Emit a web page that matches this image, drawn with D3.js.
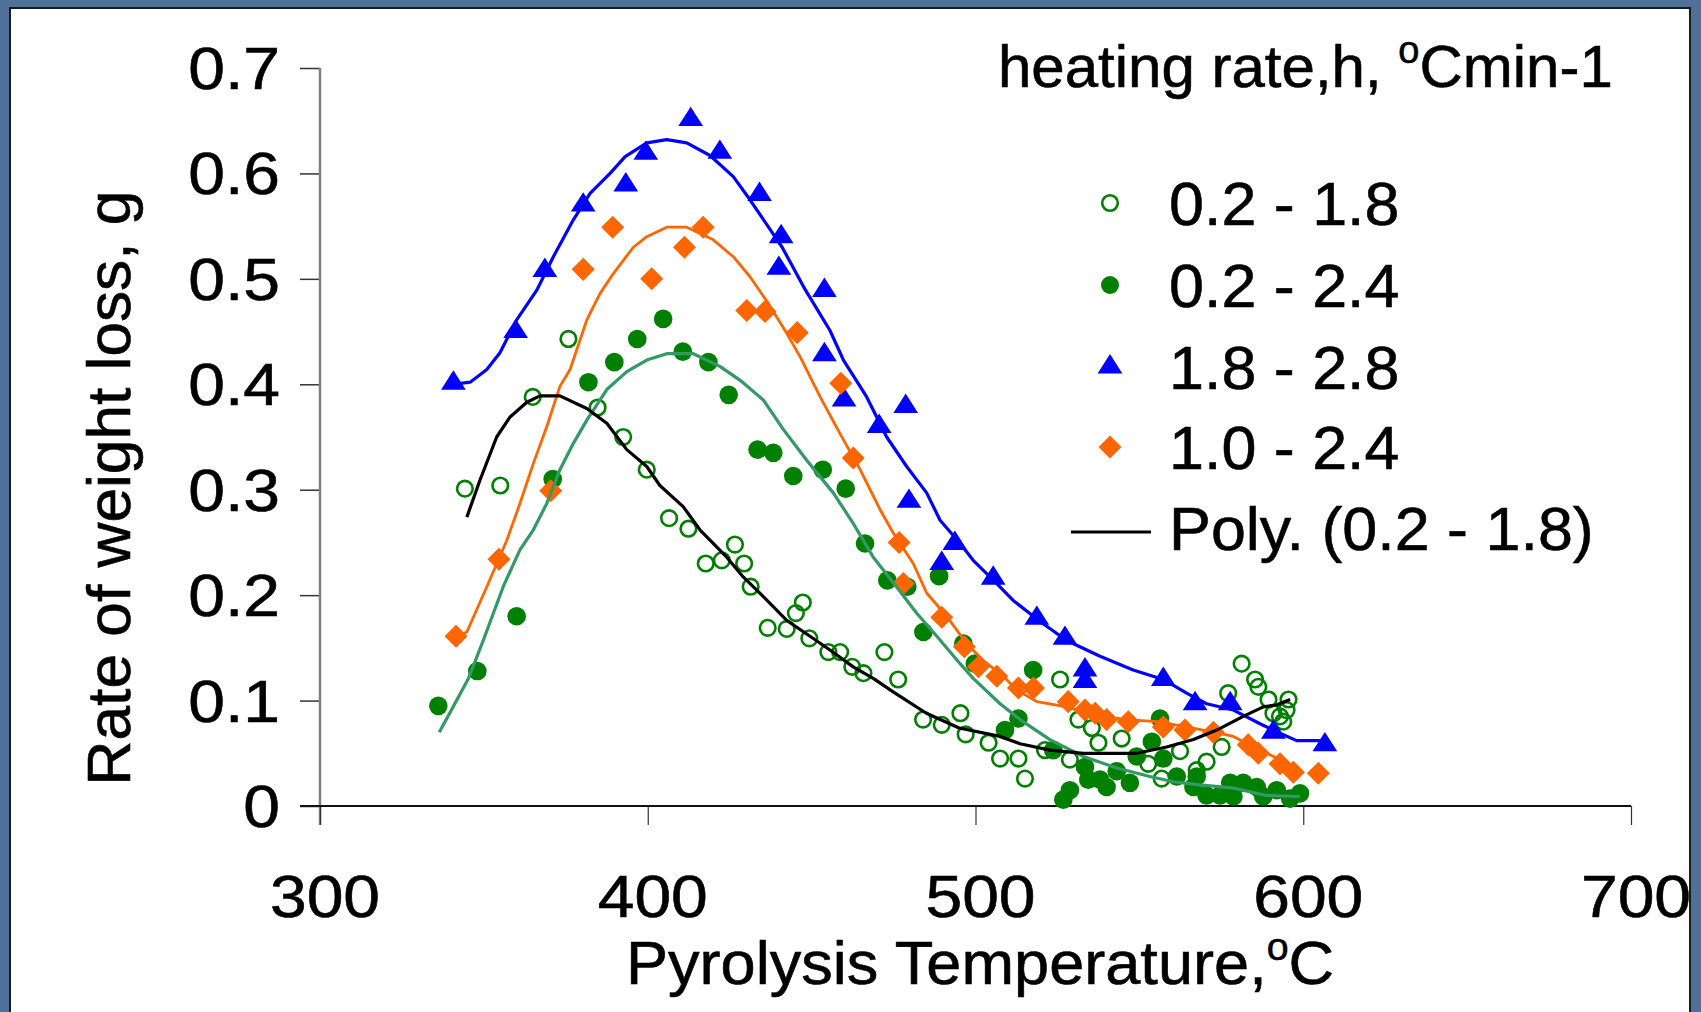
<!DOCTYPE html>
<html>
<head>
<meta charset="utf-8">
<script src="https://cdn.jsdelivr.net/npm/d3@7"></script>
<style>
  html, body { margin: 0; padding: 0; background: #4e7099; }
  svg { display: block; }
  text { font-family: "Liberation Sans", Arial, sans-serif; fill: #000; stroke: #000; stroke-width: 0.6px; }
</style>
</head>
<body>
<svg id="chart" width="1701" height="1012"></svg>
<script>
// ---------------- DATA ----------------
const xTicks = [300, 400, 500, 600, 700];
const yTicks = [0, 0.1, 0.2, 0.3, 0.4, 0.5, 0.6, 0.7];
const yTickLabels = ["0", "0.1", "0.2", "0.3", "0.4", "0.5", "0.6", "0.7"];

const seriesNames = ["0.2 - 1.8", "0.2 - 2.4", "1.8 - 2.8", "1.0 - 2.4", "Poly. (0.2 - 1.8)"];

// 0.2 - 1.8 (open circles)
const openT = [344.2,355.0,364.9,375.8,384.7,392.5,399.7,406.5,412.4,417.7,422.6,426.6,429.4,431.4,436.6,442.4,445.2,447.3,449.3,455.1,458.7,462.4,465.8,472.2,476.4,484.0,489.7,495.4,497.0,504.0,507.5,513.1,515.1,521.2,525.8,528.8,531.4,535.5,537.5,544.6,552.7,556.8,562.4,567.5,570.5,575.1,577.1,581.2,585.3,586.3,589.4,590.9,592.9,593.9,594.9,595.5];
const openV = [0.301,0.304,0.388,0.443,0.378,0.350,0.319,0.273,0.263,0.230,0.233,0.248,0.230,0.208,0.169,0.168,0.183,0.193,0.159,0.146,0.146,0.132,0.126,0.146,0.120,0.082,0.077,0.088,0.068,0.060,0.045,0.045,0.026,0.053,0.120,0.044,0.082,0.074,0.060,0.064,0.040,0.026,0.052,0.034,0.042,0.056,0.107,0.135,0.120,0.113,0.101,0.088,0.085,0.080,0.091,0.101];

// 0.2 - 2.4 (filled circles)
const fillT = [336.1,348.0,360.0,371.0,381.9,389.8,396.8,404.7,410.7,418.5,424.7,433.5,438.3,444.4,453.4,460.4,466.3,473.1,479.2,484.1,488.9,496.3,499.8,509.0,513.1,517.6,523.7,526.8,528.8,533.4,534.4,538.0,540.0,543.1,547.1,549.2,553.8,556.3,557.3,561.4,566.5,567.5,570.5,574.6,577.7,578.7,581.7,585.8,587.8,591.9,596.0,599.0];
const fillV = [0.095,0.128,0.180,0.310,0.402,0.421,0.443,0.462,0.431,0.421,0.390,0.338,0.335,0.313,0.319,0.301,0.249,0.214,0.208,0.165,0.218,0.154,0.135,0.072,0.083,0.129,0.053,0.006,0.015,0.037,0.025,0.025,0.018,0.033,0.022,0.047,0.061,0.083,0.045,0.028,0.018,0.028,0.010,0.010,0.022,0.009,0.022,0.018,0.009,0.015,0.007,0.012];

// 1.8 - 2.8 (triangles)
const triT = [340.7,359.7,368.6,380.3,393.3,399.4,413.1,422.0,434.1,440.7,440.0,453.9,453.9,459.9,470.6,478.7,479.7,489.7,493.7,505.4,518.7,527.3,533.4,533.4,557.3,567.0,577.7,590.9,606.6];
const triV = [0.401,0.450,0.508,0.570,0.589,0.619,0.651,0.620,0.580,0.540,0.510,0.489,0.428,0.385,0.360,0.379,0.289,0.230,0.249,0.216,0.178,0.159,0.129,0.118,0.120,0.097,0.097,0.070,0.058];

// 1.0 - 2.4 (diamonds)
const diaT = [341.5,354.6,370.4,380.3,389.3,401.2,411.2,416.9,430.2,435.8,445.6,458.9,462.7,476.7,478.0,489.7,496.6,500.9,506.5,513.1,517.7,528.3,533.4,536.5,540.0,546.6,557.3,563.9,572.6,583.2,586.3,592.9,597.0,604.6];
const diaV = [0.161,0.234,0.299,0.509,0.549,0.500,0.530,0.549,0.470,0.469,0.449,0.401,0.330,0.250,0.211,0.179,0.151,0.132,0.123,0.112,0.112,0.099,0.091,0.088,0.082,0.080,0.075,0.072,0.070,0.058,0.050,0.040,0.032,0.031];

// smoothed curves
const blueLineT = [340.7,345.8,350.9,354.9,360.0,366.1,371.2,377.3,382.4,388.5,393.1,399.7,405.8,411.9,419.0,426.1,431.2,441.0,448.0,455.6,459.7,466.8,472.9,479.0,485.1,489.2,495.3,499.3,506.5,511.5,519.7,527.8,538.0,548.1,557.3,564.4,570.5,578.7,586.8,592.9,598.0,605.1];
const blueLineV = [0.400,0.402,0.414,0.430,0.461,0.489,0.521,0.556,0.581,0.600,0.616,0.629,0.632,0.629,0.617,0.597,0.575,0.530,0.490,0.451,0.423,0.388,0.350,0.322,0.297,0.271,0.249,0.233,0.211,0.195,0.175,0.157,0.142,0.129,0.120,0.107,0.097,0.091,0.078,0.069,0.062,0.062];

const orangeLineT = [341.5,344.8,350.9,357.0,361.0,365.1,369.2,373.2,376.3,381.4,385.4,389.5,395.6,399.7,405.8,411.9,420.0,426.1,431.2,436.5,441.9,446.5,452.6,458.7,464.8,470.9,474.9,481.0,485.1,491.2,497.3,502.4,508.5,512.6,518.7,527.8,537.0,546.1,555.3,564.4,572.6,578.7,584.8,590.9,597.0];
const orangeLineV = [0.160,0.165,0.208,0.252,0.287,0.325,0.360,0.398,0.414,0.461,0.486,0.505,0.530,0.540,0.549,0.549,0.537,0.521,0.502,0.478,0.451,0.426,0.388,0.353,0.319,0.281,0.259,0.230,0.202,0.180,0.154,0.138,0.123,0.110,0.099,0.094,0.086,0.082,0.080,0.075,0.070,0.066,0.056,0.047,0.034];

const tealLineT = [336.4,345.3,349.8,355.9,361.0,365.1,369.2,373.2,377.3,381.4,387.5,393.6,399.7,405.8,413.9,422.0,428.1,435.3,441.4,448.5,456.6,462.7,468.8,475.9,482.0,488.2,495.3,499.3,507.5,513.6,522.7,532.9,543.1,553.2,560.4,568.5,578.7,588.8,599.0];
const tealLineV = [0.070,0.121,0.157,0.208,0.243,0.262,0.287,0.319,0.344,0.366,0.395,0.412,0.423,0.429,0.429,0.417,0.404,0.385,0.357,0.328,0.297,0.268,0.236,0.208,0.183,0.161,0.135,0.121,0.097,0.082,0.063,0.047,0.036,0.028,0.023,0.020,0.017,0.010,0.009];

const polyT = [344.8,348.8,353.9,358.0,363.1,367.1,373.2,381.4,387.5,393.6,399.7,403.7,410.8,415.9,424.1,429.2,434.2,442.4,449.5,455.6,462.7,468.8,475.0,485.0,495.0,507.5,513.6,522.7,532.9,549.2,558.3,566.5,573.6,581.7,587.8,591.9,596.0];
const polyV = [0.274,0.309,0.350,0.369,0.383,0.389,0.389,0.377,0.363,0.338,0.322,0.304,0.284,0.262,0.236,0.217,0.202,0.176,0.161,0.148,0.132,0.121,0.108,0.088,0.074,0.066,0.059,0.053,0.050,0.050,0.056,0.063,0.072,0.085,0.094,0.096,0.101];

// ---------------- DRAW ----------------
const svg = d3.select("#chart");
const zip = (a, b) => a.map((d, i) => [d, b[i]]);

const x = d3.scaleLinear().domain([300, 700]).range([320, 1631]);
const y = d3.scaleLinear().domain([0, 0.7]).range([806, 68]);

// white panel
svg.append("rect").attr("x", 10).attr("y", 8).attr("width", 1680).attr("height", 1020)
  .attr("fill", "#fff").attr("stroke", "#1a1a1a").attr("stroke-width", 2);

const GREEN = "#008000", BLUE = "#0000ff", ORANGE = "#ff6600", TEAL = "#339966";

// axes
const yAxis = svg.append("g").attr("transform", "translate(320,0)")
  .call(d3.axisLeft(y).tickValues(yTicks).tickSize(20).tickFormat(""));
yAxis.select(".domain").remove();
yAxis.selectAll(".tick line").attr("stroke", "#333").attr("stroke-width", 1.5);
svg.append("line").attr("x1", 320).attr("x2", 320).attr("y1", y(0.7)).attr("y2", 825)
  .attr("stroke", "#808080").attr("stroke-width", 2.5);

const xAxis = svg.append("g").attr("transform", "translate(0,806)")
  .call(d3.axisBottom(x).tickValues(xTicks).tickSize(19).tickFormat(""));
xAxis.select(".domain").remove();
xAxis.selectAll(".tick line").attr("stroke", "#333").attr("stroke-width", 1.2);
svg.append("line").attr("x1", 300).attr("x2", x(700)).attr("y1", 806).attr("y2", 806)
  .attr("stroke", "#111").attr("stroke-width", 1.8);

// tick labels
svg.append("g").selectAll("text").data(yTicks).join("text")
  .attr("transform", d => `translate(280,${y(d) + 21}) scale(1.1,1)`)
  .attr("text-anchor", "end").attr("font-size", 60)
  .text((d, i) => yTickLabels[i]);
svg.append("g").selectAll("text").data(xTicks).join("text")
  .attr("transform", d => `translate(${x(d) + 5},917) scale(1.1,1)`)
  .attr("text-anchor", "middle").attr("font-size", 60)
  .text(d => d);

// axis titles
const xt = svg.append("text").attr("transform", "translate(980,984) scale(1.035,1)")
  .attr("text-anchor", "middle").attr("font-size", 61);
xt.append("tspan").text("Pyrolysis Temperature,");
xt.append("tspan").attr("font-size", 38).attr("dy", -24).text("o");
xt.append("tspan").attr("dy", 24).text("C");

svg.append("text").attr("transform", "translate(130,488) rotate(-90) scale(1.02,1)")
  .attr("text-anchor", "middle").attr("font-size", 61)
  .text("Rate of weight loss, g");

// clip to panel
svg.append("clipPath").attr("id", "panel").append("rect")
  .attr("x", 11).attr("y", 9).attr("width", 1678).attr("height", 1010);
const plot = svg.append("g").attr("clip-path", "url(#panel)");

// markers
const tri = d3.symbol().type(d3.symbolTriangle).size(240);
const dia = d3.symbol().type(d3.symbolSquare).size(265);

plot.append("g").selectAll("circle").data(zip(openT, openV)).join("circle")
  .attr("cx", d => x(d[0])).attr("cy", d => y(d[1])).attr("r", 7.8)
  .attr("fill", "none").attr("stroke", GREEN).attr("stroke-width", 2.6);

plot.append("g").selectAll("circle").data(zip(fillT, fillV)).join("circle")
  .attr("cx", d => x(d[0])).attr("cy", d => y(d[1])).attr("r", 9.3)
  .attr("fill", GREEN);

plot.append("g").selectAll("path").data(zip(triT, triV)).join("path")
  .attr("d", tri).attr("fill", BLUE)
  .attr("transform", d => `translate(${x(d[0])},${y(d[1])}) scale(1.05,0.95)`);

plot.append("g").selectAll("path").data(zip(diaT, diaV)).join("path")
  .attr("d", dia).attr("fill", ORANGE)
  .attr("transform", d => `translate(${x(d[0])},${y(d[1])}) rotate(45)`);

// smoothed lines
const line = d3.line().x(d => x(d[0])).y(d => y(d[1]));
const lines = [
  [blueLineT, blueLineV, BLUE, 3.2],
  [orangeLineT, orangeLineV, ORANGE, 2.8],
  [tealLineT, tealLineV, TEAL, 3.2],
  [polyT, polyV, "#000", 3.2]
];
lines.forEach(([t, v, c, w]) => {
  plot.append("path").datum(zip(t, v)).attr("d", line)
    .attr("fill", "none").attr("stroke", c).attr("stroke-width", w)
    .attr("stroke-linejoin", "round");
});

// legend
const lt = svg.append("text").attr("x", 998).attr("y", 87).attr("font-size", 60);
lt.append("tspan").text("heating rate,h, ");
lt.append("tspan").attr("font-size", 38).attr("dy", -24).text("o");
lt.append("tspan").attr("dy", 24).text("Cmin-1");

const legY = [203, 285, 367, 447, 528];
const leg = svg.append("g");
leg.append("circle").attr("cx", 1110).attr("cy", legY[0]).attr("r", 7.8)
  .attr("fill", "none").attr("stroke", GREEN).attr("stroke-width", 2.6);
leg.append("circle").attr("cx", 1110).attr("cy", legY[1]).attr("r", 9)
  .attr("fill", GREEN);
leg.append("path").attr("d", tri).attr("fill", BLUE)
  .attr("transform", `translate(1110,${legY[2]}) scale(1.05,0.95)`);
leg.append("path").attr("d", dia).attr("fill", ORANGE)
  .attr("transform", `translate(1110,${legY[3]}) rotate(45)`);
leg.append("line").attr("x1", 1071).attr("x2", 1151).attr("y1", legY[4] + 4).attr("y2", legY[4] + 4)
  .attr("stroke", "#000").attr("stroke-width", 3);
leg.selectAll("text.lab").data(seriesNames).join("text").attr("class", "lab")
  .attr("transform", (d, i) => `translate(1169,${legY[i] + 22}) scale(1.03,1)`)
  .attr("font-size", 61).text(d => d);
</script>
</body>
</html>
